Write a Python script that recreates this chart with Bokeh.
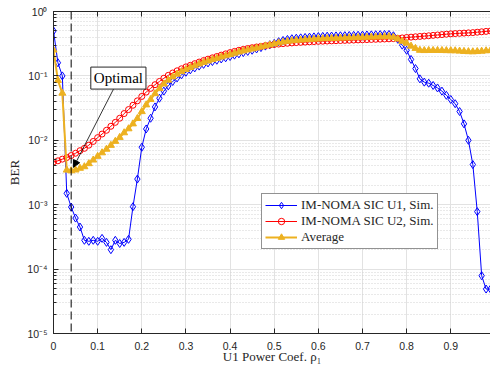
from bokeh.plotting import figure
from bokeh.models import (LinearAxis, LogTicker, FixedTicker, Span, Label, Arrow,
                          NormalHead, CustomJSTickFormatter, Range1d, CustomLabelingPolicy)
from bokeh.embed import file_html
from bokeh.resources import INLINE

# ---------------- data ----------------
rho = [0.00, 0.01, 0.02, 0.03, 0.04, 0.05, 0.06, 0.07, 0.08, 0.09,
       0.10, 0.11, 0.12, 0.13, 0.14, 0.15, 0.16, 0.17, 0.18, 0.19,
       0.20, 0.21, 0.22, 0.23, 0.24, 0.25, 0.26, 0.27, 0.28, 0.29,
       0.30, 0.31, 0.32, 0.33, 0.34, 0.35, 0.36, 0.37, 0.38, 0.39,
       0.40, 0.41, 0.42, 0.43, 0.44, 0.45, 0.46, 0.47, 0.48, 0.49,
       0.50, 0.51, 0.52, 0.53, 0.54, 0.55, 0.56, 0.57, 0.58, 0.59,
       0.60, 0.61, 0.62, 0.63, 0.64, 0.65, 0.66, 0.67, 0.68, 0.69,
       0.70, 0.71, 0.72, 0.73, 0.74, 0.75, 0.76, 0.77, 0.78, 0.79,
       0.80, 0.81, 0.82, 0.83, 0.84, 0.85, 0.86, 0.87, 0.88, 0.89,
       0.90, 0.91, 0.92, 0.93, 0.94, 0.95, 0.96, 0.97, 0.98, 0.99]

ber_u1 = [0.50, 0.16, 0.10, 1.5e-3, 9.2e-4, 6.2e-4, 4.5e-4, 2.8e-4, 2.7e-4, 2.8e-4,
          2.7e-4, 3.0e-4, 2.6e-4, 2.0e-4, 2.8e-4, 2.5e-4, 2.6e-4, 2.9e-4, 9.3e-4, 2.5e-3,
          7.8e-3, 0.015, 0.022, 0.033, 0.045, 0.058, 0.070, 0.082, 0.093, 0.104,
          0.114, 0.124, 0.133, 0.142, 0.151, 0.159, 0.167, 0.175, 0.183, 0.191,
          0.200, 0.210, 0.220, 0.230, 0.240, 0.250, 0.262, 0.275, 0.290, 0.305,
          0.320, 0.340, 0.355, 0.368, 0.378, 0.385, 0.390, 0.395, 0.400, 0.404,
          0.408, 0.411, 0.414, 0.416, 0.418, 0.420, 0.422, 0.424, 0.426, 0.428,
          0.430, 0.432, 0.434, 0.436, 0.438, 0.440, 0.440, 0.420, 0.370, 0.300,
          0.250, 0.180, 0.130, 0.090, 0.080, 0.077, 0.071, 0.065, 0.058, 0.050,
          0.043, 0.037, 0.028, 0.018, 0.010, 4.2e-3, 7.8e-4, 7.9e-5, 4.9e-5, 4.9e-5]

ber_u2 = [4.6e-3, 4.8e-3, 5.1e-3, 5.4e-3, 5.8e-3, 6.3e-3, 6.9e-3, 7.5e-3, 8.4e-3, 9.6e-3,
          0.0110, 0.0125, 0.0143, 0.0165, 0.0190, 0.0220, 0.0260, 0.0300, 0.0350, 0.0410,
          0.048, 0.056, 0.064, 0.073, 0.082, 0.092, 0.102, 0.111, 0.120, 0.129,
          0.138, 0.146, 0.155, 0.164, 0.173, 0.182, 0.191, 0.200, 0.210, 0.220,
          0.230, 0.240, 0.250, 0.258, 0.266, 0.274, 0.281, 0.288, 0.295, 0.301,
          0.307, 0.312, 0.317, 0.321, 0.325, 0.329, 0.332, 0.335, 0.338, 0.341,
          0.344, 0.346, 0.348, 0.350, 0.352, 0.354, 0.356, 0.358, 0.360, 0.362,
          0.364, 0.366, 0.368, 0.370, 0.372, 0.374, 0.376, 0.379, 0.383, 0.389,
          0.395, 0.400, 0.405, 0.410, 0.415, 0.420, 0.426, 0.432, 0.438, 0.444,
          0.450, 0.454, 0.458, 0.462, 0.466, 0.470, 0.477, 0.484, 0.491, 0.498]

ber_avg = [0.252, 0.085, 0.054, 3.45e-3, 3.36e-3, 3.46e-3, 3.68e-3, 3.89e-3, 4.34e-3, 4.94e-3,
           5.64e-3, 6.4e-3, 7.28e-3, 8.35e-3, 9.64e-3, 0.0111, 0.0131, 0.0151, 0.0180, 0.0218,
           0.0279, 0.0355, 0.043, 0.053, 0.0635, 0.075, 0.086, 0.0965, 0.1065, 0.1165,
           0.126, 0.135, 0.144, 0.153, 0.162, 0.1705, 0.179, 0.1875, 0.1965, 0.2055,
           0.215, 0.225, 0.235, 0.244, 0.253, 0.262, 0.2715, 0.2815, 0.2925, 0.303,
           0.3135, 0.326, 0.336, 0.3445, 0.3515, 0.357, 0.361, 0.365, 0.369, 0.3725,
           0.376, 0.3785, 0.381, 0.383, 0.385, 0.387, 0.389, 0.391, 0.393, 0.395,
           0.397, 0.399, 0.401, 0.403, 0.405, 0.407, 0.408, 0.3995, 0.376, 0.3445,
           0.3225, 0.290, 0.2675, 0.250, 0.2475, 0.2485, 0.2485, 0.2485, 0.248, 0.247,
           0.2465, 0.2455, 0.243, 0.240, 0.238, 0.237, 0.239, 0.242, 0.2455, 0.249]

x_ticks = [0.0, 0.1, 0.2, 0.3, 0.4, 0.5, 0.6, 0.7, 0.8, 0.9]
x_tick_labels = ["0", "0.1", "0.2", "0.3", "0.4", "0.5", "0.6", "0.7", "0.8", "0.9"]
y_ticks = [1e-5, 1e-4, 1e-3, 1e-2, 1e-1, 1e0]
y_tick_labels = ["10\u207b\u2075", "10\u207b\u2074", "10\u207b\u00b3", "10\u207b\u00b2", "10\u207b\u00b9", "10\u2070"]

series_names = ["IM-NOMA SIC U1, Sim.", "IM-NOMA SIC U2, Sim.", "Average"]

optimal_rho = 0.04
label_pos = (0.147, 0.0925)       # "Optimal" text box anchor (data units)
arrow_start = (0.136, 0.0625)
arrow_end = (0.045, 0.0038)

# ---------------- figure ----------------
SANS = "Liberation Sans"
SERIF = "Liberation Serif"
AX = "#262626"

p = figure(width=490, height=373, y_axis_type="log",
           x_range=Range1d(0, 0.99), y_range=Range1d(1e-5, 1.0),
           output_backend="svg", toolbar_location=None,
           min_border_left=53, min_border_right=0, min_border_top=9, min_border_bottom=40)
p.outline_line_color = None
p.background_fill_color = "white"

JS_FMT = """
    for (let i = 0; i < tvals.length; i++) {
        if (Math.abs(Math.log10(tvals[i] + 1e-12) - Math.log10(tick + 1e-12)) < 1e-6) return tlabels[i];
    }
    return "";
"""

# x axis
xax = p.xaxis[0]
xax.ticker = FixedTicker(ticks=x_ticks, minor_ticks=[])
xax.formatter = CustomJSTickFormatter(args=dict(tvals=x_ticks, tlabels=x_tick_labels), code=JS_FMT)
xax.axis_label = "U1 Power Coef. \u03c1\u2081"
# y axis
yax = p.yaxis[0]
yax.ticker = LogTicker(num_minor_ticks=10, mantissas=[1])
yax.formatter = CustomJSTickFormatter(args=dict(tvals=y_ticks, tlabels=y_tick_labels), code=JS_FMT)
yax.axis_label = "BER"

for ax in (xax, yax):
    ax.axis_line_color = AX
    ax.major_tick_line_color = AX
    ax.minor_tick_line_color = AX
    ax.major_tick_in = 5
    ax.major_tick_out = 0
    ax.minor_tick_in = 3
    ax.minor_tick_out = 0
    ax.major_label_text_font = SANS
    ax.major_label_text_font_size = "10.5px"
    ax.major_label_text_color = AX
    ax.axis_label_text_font = SERIF
    ax.axis_label_text_font_size = "13px"
    ax.axis_label_text_font_style = "normal"
    ax.axis_label_text_color = AX
xax.major_label_standoff = 8
xax.axis_label_standoff = -4
yax.major_label_standoff = 6
yax.axis_label_standoff = 2

top = LinearAxis(ticker=FixedTicker(ticks=x_ticks, minor_ticks=[]),
                 major_label_policy=CustomLabelingPolicy(code="return []"),
                 major_label_standoff=0,
                 major_tick_in=5, major_tick_out=0, minor_tick_in=0, minor_tick_out=0,
                 axis_line_color=AX, major_tick_line_color=AX)
p.add_layout(top, "above")

# grids
p.xgrid.grid_line_color = "#e2e2e2"
p.xgrid.grid_line_width = 1
p.ygrid.grid_line_color = "#e2e2e2"
p.ygrid.grid_line_width = 1
p.ygrid.minor_grid_line_color = "#d2d2d2"
p.ygrid.minor_grid_line_dash = "1 2"
p.ygrid.minor_grid_line_width = 1

# series
BLUE, RED, YEL = "#0000ff", "#ff0000", "#edb120"
p.line(rho, ber_u1, line_color=BLUE, line_width=1, legend_label=series_names[0])
p.scatter(rho, ber_u1, marker="diamond", size=8, line_color=BLUE, fill_color=None,
          line_width=1, legend_label=series_names[0])
p.line(rho, ber_u2, line_color=RED, line_width=1, legend_label=series_names[1])
p.scatter(rho, ber_u2, marker="circle", size=6, line_color=RED, fill_color=None,
          line_width=1, legend_label=series_names[1])
p.line(rho, ber_avg, line_color=YEL, line_width=2, legend_label=series_names[2])
p.scatter(rho, ber_avg, marker="triangle", size=7, line_color=YEL, fill_color=YEL,
          line_width=1, legend_label=series_names[2])

# optimal marker line, label and arrow
p.add_layout(Span(location=optimal_rho, dimension="height", line_color="black",
                  line_dash="8 4", line_width=1))
p.add_layout(Arrow(x_start=arrow_start[0], y_start=arrow_start[1],
                   x_end=arrow_end[0], y_end=arrow_end[1],
                   line_color="black", line_width=0.8,
                   end=NormalHead(size=7, fill_color="black", line_color="black")))
p.add_layout(Label(x=label_pos[0], y=label_pos[1], text="Optimal",
                   text_align="center", text_baseline="middle",
                   text_font=SERIF, text_font_size="15px", text_color="black",
                   background_fill_color="white", border_line_color=AX,
                   border_line_width=1, padding=3))

# legend
lg = p.legend[0]
lg.location = (208, 84)
lg.border_line_color = AX
lg.border_line_width = 1
lg.background_fill_color = "white"
lg.background_fill_alpha = 1
lg.label_text_font = SERIF
lg.label_text_font_size = "13px"
lg.label_text_color = AX
lg.glyph_width = 32
lg.glyph_height = 16
lg.label_height = 16
lg.spacing = 0
lg.padding = 3
lg.margin = 0
lg.label_standoff = 4

open("out.html", "w").write(file_html(p, INLINE))
